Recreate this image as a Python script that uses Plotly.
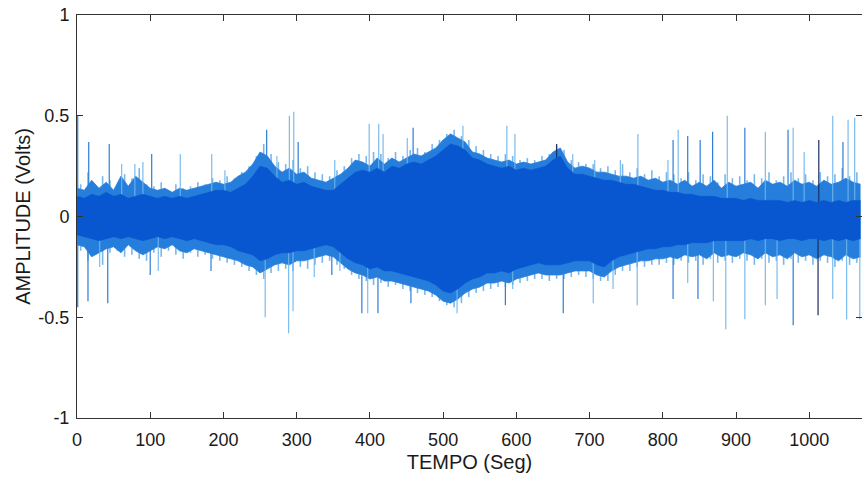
import plotly.graph_objects as go

# ---- data ----
t_env = list(range(0, 1080, 10))

core_hi = [0.10, 0.09, 0.11, 0.10, 0.12, 0.10, 0.11, 0.09, 0.10, 0.11,
           0.10, 0.09, 0.10, 0.09, 0.10, 0.09, 0.10, 0.11, 0.12, 0.13,
           0.13, 0.12, 0.14, 0.16, 0.20, 0.25, 0.24, 0.20, 0.17, 0.18,
           0.16, 0.17, 0.15, 0.14, 0.13, 0.13, 0.16, 0.19, 0.22, 0.23,
           0.22, 0.24, 0.22, 0.25, 0.24, 0.26, 0.27, 0.26, 0.28, 0.30,
           0.33, 0.36, 0.35, 0.33, 0.29, 0.28, 0.26, 0.25, 0.24, 0.25,
           0.23, 0.24, 0.23, 0.24, 0.25, 0.28, 0.30, 0.24, 0.21, 0.21,
           0.20, 0.19, 0.18, 0.18, 0.17, 0.16, 0.16, 0.15, 0.14, 0.13,
           0.13, 0.12, 0.12, 0.11, 0.11, 0.10, 0.10, 0.10, 0.09, 0.09,
           0.09, 0.08, 0.09, 0.08, 0.08, 0.08, 0.08, 0.07, 0.08, 0.07,
           0.08, 0.07, 0.08, 0.07, 0.08, 0.07, 0.08, 0.08]

core_lo = [-0.09, -0.10, -0.11, -0.12, -0.11, -0.10, -0.11, -0.10, -0.11, -0.12,
           -0.11, -0.10, -0.11, -0.10, -0.11, -0.12, -0.11, -0.12, -0.13, -0.14,
           -0.14, -0.15, -0.17, -0.18, -0.19, -0.22, -0.21, -0.19, -0.18, -0.18,
           -0.17, -0.17, -0.16, -0.15, -0.14, -0.15, -0.18, -0.21, -0.23, -0.24,
           -0.26, -0.25, -0.27, -0.27, -0.28, -0.29, -0.30, -0.31, -0.32, -0.34,
           -0.37, -0.38, -0.36, -0.33, -0.31, -0.30, -0.28, -0.28, -0.27, -0.28,
           -0.26, -0.25, -0.24, -0.23, -0.24, -0.24, -0.24, -0.23, -0.22, -0.22,
           -0.22, -0.24, -0.25, -0.22, -0.20, -0.19, -0.18, -0.17, -0.16, -0.16,
           -0.15, -0.15, -0.14, -0.14, -0.13, -0.13, -0.13, -0.12, -0.12, -0.12,
           -0.12, -0.12, -0.11, -0.12, -0.11, -0.11, -0.12, -0.11, -0.11, -0.12,
           -0.11, -0.11, -0.12, -0.11, -0.12, -0.11, -0.12, -0.11]

fringe_hi = [0.14, 0.13, 0.18, 0.14, 0.17, 0.13, 0.20, 0.15, 0.20, 0.17,
             0.14, 0.13, 0.14, 0.12, 0.14, 0.13, 0.14, 0.15, 0.16, 0.17,
             0.16, 0.17, 0.20, 0.22, 0.26, 0.32, 0.30, 0.25, 0.22, 0.24,
             0.21, 0.22, 0.19, 0.18, 0.17, 0.19, 0.21, 0.24, 0.28, 0.27,
             0.25, 0.29, 0.26, 0.29, 0.27, 0.29, 0.31, 0.30, 0.32, 0.34,
             0.38, 0.41, 0.39, 0.37, 0.32, 0.31, 0.29, 0.28, 0.27, 0.28,
             0.26, 0.27, 0.26, 0.27, 0.28, 0.32, 0.34, 0.27, 0.24, 0.25,
             0.24, 0.22, 0.22, 0.21, 0.20, 0.20, 0.19, 0.20, 0.18, 0.19,
             0.17, 0.18, 0.16, 0.18, 0.15, 0.17, 0.15, 0.18, 0.14, 0.17,
             0.15, 0.16, 0.17, 0.14, 0.18, 0.16, 0.17, 0.15, 0.18, 0.16,
             0.17, 0.15, 0.18, 0.16, 0.17, 0.19, 0.17, 0.16]

fringe_lo = [-0.14, -0.15, -0.20, -0.18, -0.16, -0.15, -0.18, -0.14, -0.17, -0.19,
             -0.17, -0.15, -0.16, -0.14, -0.17, -0.18, -0.16, -0.17, -0.18, -0.19,
             -0.20, -0.21, -0.22, -0.24, -0.25, -0.28, -0.26, -0.24, -0.23, -0.24,
             -0.22, -0.22, -0.21, -0.20, -0.19, -0.20, -0.23, -0.26, -0.28, -0.29,
             -0.31, -0.30, -0.32, -0.32, -0.33, -0.34, -0.35, -0.36, -0.37, -0.39,
             -0.42, -0.43, -0.41, -0.38, -0.36, -0.35, -0.33, -0.33, -0.32, -0.33,
             -0.31, -0.30, -0.29, -0.28, -0.29, -0.29, -0.29, -0.28, -0.27, -0.27,
             -0.27, -0.29, -0.30, -0.27, -0.25, -0.24, -0.23, -0.22, -0.22, -0.21,
             -0.21, -0.20, -0.21, -0.19, -0.20, -0.19, -0.21, -0.18, -0.20, -0.19,
             -0.20, -0.18, -0.19, -0.21, -0.18, -0.20, -0.19, -0.21, -0.18, -0.20,
             -0.19, -0.21, -0.19, -0.20, -0.22, -0.19, -0.21, -0.20]

# thin "hairs" on the edges of the band, between envelope samples
hair_t = list(range(5, 1070, 10))
hair_hi = [0.16, 0.22, 0.15, 0.20, 0.18, 0.14, 0.21, 0.19, 0.24, 0.16,
           0.15, 0.17, 0.13, 0.16, 0.14, 0.15, 0.17, 0.16, 0.19, 0.18,
           0.20, 0.19, 0.22, 0.25, 0.30, 0.36, 0.31, 0.27, 0.26, 0.28,
           0.24, 0.25, 0.22, 0.21, 0.20, 0.23, 0.25, 0.29, 0.31, 0.30,
           0.32, 0.31, 0.29, 0.32, 0.30, 0.33, 0.34, 0.32, 0.36, 0.38,
           0.41, 0.43, 0.40, 0.38, 0.35, 0.33, 0.31, 0.30, 0.31, 0.30,
           0.28, 0.29, 0.28, 0.30, 0.31, 0.35, 0.33, 0.28, 0.27, 0.26,
           0.26, 0.24, 0.25, 0.23, 0.26, 0.22, 0.24, 0.21, 0.23, 0.20,
           0.22, 0.21, 0.19, 0.22, 0.18, 0.21, 0.20, 0.17, 0.21, 0.19,
           0.20, 0.18, 0.21, 0.19, 0.22, 0.18, 0.20, 0.22, 0.19, 0.21,
           0.18, 0.22, 0.20, 0.21, 0.24, 0.20, 0.22]
hair_lo = [-0.17, -0.22, -0.19, -0.24, -0.18, -0.17, -0.20, -0.19, -0.21, -0.22,
           -0.18, -0.20, -0.17, -0.19, -0.21, -0.18, -0.20, -0.19, -0.21, -0.22,
           -0.23, -0.24, -0.25, -0.27, -0.29, -0.31, -0.28, -0.27, -0.26, -0.27,
           -0.25, -0.26, -0.24, -0.23, -0.22, -0.24, -0.26, -0.29, -0.31, -0.32,
           -0.34, -0.33, -0.35, -0.34, -0.36, -0.37, -0.38, -0.39, -0.40, -0.42,
           -0.44, -0.45, -0.43, -0.40, -0.38, -0.37, -0.36, -0.35, -0.35, -0.34,
           -0.33, -0.32, -0.31, -0.31, -0.32, -0.31, -0.31, -0.30, -0.29, -0.30,
           -0.31, -0.32, -0.32, -0.29, -0.27, -0.27, -0.25, -0.25, -0.24, -0.24,
           -0.23, -0.24, -0.22, -0.23, -0.22, -0.24, -0.21, -0.23, -0.22, -0.23,
           -0.21, -0.22, -0.24, -0.21, -0.23, -0.22, -0.24, -0.21, -0.23, -0.22,
           -0.24, -0.22, -0.23, -0.25, -0.22, -0.24, -0.23]

# upward spikes: time, peak, shade (l=light, m=medium, d=dark)
up_t = [1, 16, 44, 61, 79, 90, 102, 141, 184, 202, 259, 273, 290, 296, 302,
        352, 399, 412, 418, 451, 459, 527, 587, 598, 655, 677, 707, 742, 766,
        807, 814, 821, 834, 851, 868, 888, 912, 940, 971, 978, 993, 1013, 1032,
        1046, 1053, 1062]
up_v = [0.50, 0.37, 0.36, 0.26, 0.26, 0.27, 0.31, 0.31, 0.31, 0.23, 0.43, 0.30,
        0.50, 0.52, 0.37, 0.28, 0.46, 0.46, 0.41, 0.39, 0.44, 0.45, 0.45, 0.41,
        0.36, 0.31, 0.28, 0.28, 0.41, 0.28, 0.38, 0.43, 0.40, 0.38, 0.42, 0.50,
        0.44, 0.42, 0.43, 0.44, 0.32, 0.38, 0.50, 0.37, 0.48, 0.49]
up_s = ["m", "m", "m", "l", "l", "l", "m", "l", "l", "l", "m", "l", "l", "l", "m",
        "l", "l", "l", "l", "l", "m", "l", "l", "l", "d", "l", "l", "l", "l",
        "l", "m", "l", "m", "m", "m", "l", "m", "l", "m", "l", "l", "d", "l",
        "m", "l", "l"]

# downward spikes: time, trough, shade
dn_t = [1, 15, 31, 42, 100, 111, 183, 257, 289, 295, 324, 348, 359, 389, 397,
        411, 456, 519, 585, 595, 664, 705, 732, 765, 814, 834, 848, 869, 886,
        912, 940, 956, 978, 1012, 1032, 1051, 1069]
dn_v = [-0.45, -0.42, -0.25, -0.43, -0.29, -0.27, -0.27, -0.50, -0.58, -0.47,
        -0.30, -0.29, -0.27, -0.48, -0.48, -0.48, -0.43, -0.48, -0.44, -0.36,
        -0.48, -0.43, -0.36, -0.44, -0.41, -0.33, -0.41, -0.42, -0.56, -0.51,
        -0.44, -0.41, -0.54, -0.49, -0.41, -0.51, -0.51]
dn_s = ["m", "m", "l", "m", "m", "l", "m", "l", "l", "l", "l", "m", "l", "m", "l",
        "m", "m", "l", "m", "l", "m", "l", "l", "l", "m", "l", "m", "l", "l",
        "l", "l", "l", "m", "d", "l", "l", "l"]

x_ticks = [0, 100, 200, 300, 400, 500, 600, 700, 800, 900, 1000]
y_ticks = [-1, -0.5, 0, 0.5, 1]
y_tick_text = ["-1", "-0.5", "0", "0.5", "1"]

# ---- build figure ----
CORE = "rgb(8,86,208)"
FRINGE = "rgb(38,126,220)"
HAIR = "rgba(95,170,235,0.85)"
SHADES = {"l": "rgba(110,180,236,0.9)", "m": "rgb(45,125,215)", "d": "rgb(25,45,95)"}

fig = go.Figure()

hx, hy = [], []
for t, a, b in zip(hair_t, hair_hi, hair_lo):
    hx += [t, t, None]
    hy += [b, a, None]
fig.add_trace(go.Scatter(x=hx, y=hy, mode="lines", line=dict(width=1.6, color=HAIR),
                         hoverinfo="skip"))

fig.add_trace(go.Scatter(x=t_env, y=fringe_lo, mode="lines",
                         line=dict(width=0.8, color=FRINGE), hoverinfo="skip"))
fig.add_trace(go.Scatter(x=t_env, y=fringe_hi, mode="lines", fill="tonexty",
                         fillcolor=FRINGE, line=dict(width=0.8, color=FRINGE),
                         hoverinfo="skip"))

for shade in ["l", "m", "d"]:
    xs, ys = [], []
    for t, v, s in zip(up_t, up_v, up_s):
        if s == shade:
            xs += [t, t, None]
            ys += [0, v, None]
    for t, v, s in zip(dn_t, dn_v, dn_s):
        if s == shade:
            xs += [t, t, None]
            ys += [0, v, None]
    fig.add_trace(go.Scatter(x=xs, y=ys, mode="lines",
                             line=dict(width=1.2, color=SHADES[shade]),
                             hoverinfo="skip"))

fig.add_trace(go.Scatter(x=t_env, y=core_lo, mode="lines",
                         line=dict(width=0.6, color=CORE), hoverinfo="skip"))
fig.add_trace(go.Scatter(x=t_env, y=core_hi, mode="lines", fill="tonexty",
                         fillcolor=CORE, line=dict(width=0.6, color=CORE),
                         hoverinfo="skip"))

FONT = "Liberation Sans, Arial, sans-serif"
fig.update_layout(
    width=862, height=483,
    margin=dict(l=77, r=0, t=15, b=65),
    paper_bgcolor="white", plot_bgcolor="white",
    showlegend=False,
    font=dict(family=FONT, size=18, color="#1a1a1a"),
    xaxis=dict(range=[0, 1072], tickvals=x_ticks, ticks="inside", ticklen=6,
               tickcolor="#333", showline=True, linecolor="#333", linewidth=1,
               mirror="ticks", showgrid=False, zeroline=False,
               tickfont=dict(size=18), ticklabelstandoff=5,
               title=dict(text="TEMPO (Seg)", font=dict(size=20), standoff=6)),
    yaxis=dict(range=[-1, 1], tickvals=y_ticks, ticktext=y_tick_text,
               ticks="inside", ticklen=6, tickcolor="#333", showline=True,
               linecolor="#333", linewidth=1, mirror="ticks", showgrid=False,
               zeroline=False, tickfont=dict(size=18), ticklabelstandoff=3,
               title=dict(text="AMPLITUDE (Volts)", font=dict(size=20), standoff=2)),
)

fig.write_html("out.html")
